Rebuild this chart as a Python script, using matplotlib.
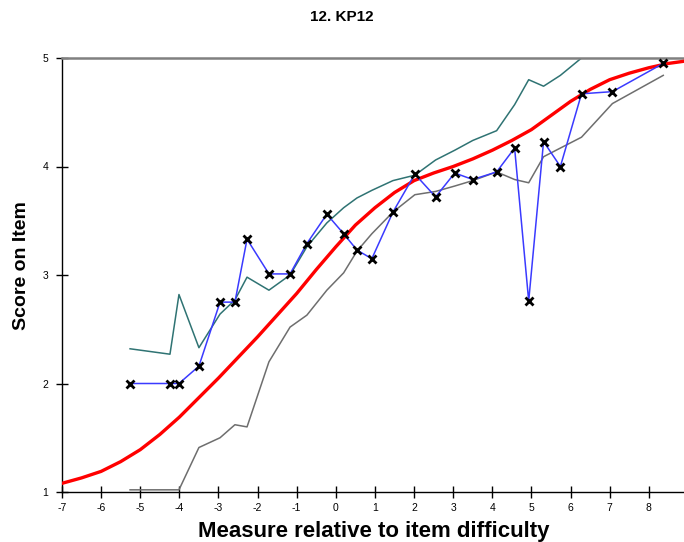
import numpy as np
import matplotlib.pyplot as plt

plt.rcParams['font.family'] = ['Liberation Sans', 'DejaVu Sans']
plt.rcParams['axes.unicode_minus'] = False

# observed mean scores at each measure group
measure = [-5.26, -4.24, -4.01, -3.50, -2.96, -2.58, -2.27, -1.71, -1.17, -0.74,
           -0.23, 0.20, 0.54, 0.92, 1.46, 2.02, 2.55, 3.04, 3.50, 4.11,
           4.57, 4.93, 5.31, 5.74, 6.28, 7.07, 8.37]
observed = [2.00, 2.00, 2.00, 2.16, 2.75, 2.75, 3.33, 3.01, 3.01, 3.29,
            3.56, 3.38, 3.23, 3.15, 3.58, 3.93, 3.72, 3.94, 3.88, 3.95,
            4.17, 2.76, 4.23, 4.00, 4.67, 4.69, 4.95]
# upper and lower confidence bands
upper = [2.32, 2.27, 2.82, 2.33, 2.64, 2.77, 2.98, 2.86, 3.00, 3.26,
         3.48, 3.62, 3.71, 3.78, 3.87, 3.92, 4.06, 4.15, 4.24, 4.33,
         4.57, 4.80, 4.74, 4.84, 5.00, 5.00, 5.00]
lower = [1.02, 1.02, 1.02, 1.41, 1.50, 1.62, 1.60, 2.20, 2.52, 2.63,
         2.86, 3.02, 3.22, 3.38, 3.58, 3.74, 3.77, 3.82, 3.87, 3.95,
         3.88, 3.85, 4.09, 4.17, 4.27, 4.58, 4.84]
# model expected score curve
curve_x = [-7, -6.5, -6, -5.5, -5, -4.5, -4, -3.5, -3, -2.5, -2, -1.5, -1, -0.5,
           0, 0.5, 1, 1.5, 2, 2.5, 3, 3.5, 4, 4.5, 5, 5.5, 6, 6.5, 7, 7.5, 8, 8.5, 8.9]
curve_y = [1.08, 1.13, 1.19, 1.28, 1.39, 1.53, 1.69, 1.87, 2.05, 2.24, 2.43, 2.63, 2.83, 3.05,
           3.26, 3.46, 3.62, 3.76, 3.87, 3.94, 4.00, 4.07, 4.15, 4.24, 4.34, 4.47, 4.60, 4.71,
           4.80, 4.86, 4.91, 4.95, 4.97]
xticks = list(range(-7, 9))
yticks = [1, 2, 3, 4, 5]

fig = plt.figure(figsize=(6.84, 5.42), dpi=100)
ax = fig.add_axes([62 / 684, 1 - 492 / 542, 1 - 62 / 684, (492 - 58) / 542])

ax.plot(measure, upper, color='#2f7373', lw=1.1, zorder=2)
ax.plot(measure, lower, color='#6e6e6e', lw=1.1, zorder=2)
ax.plot(curve_x, curve_y, color='#ff0000', lw=2.4, zorder=3, solid_capstyle='round')
ax.plot(measure, observed, color='#3a3aff', lw=1.1, zorder=4)
ax.plot(measure, observed, ls='none', marker='x', ms=6, mew=2, color='black', zorder=5)

ax.set_xlim(-7, 8.9)
ax.set_ylim(1, 5)
ax.set_xticks(xticks)
ax.set_yticks(yticks)
ax.tick_params(direction='inout', length=8, width=1, labelsize=7.5)
ax.tick_params(axis='x', pad=4)
ax.tick_params(axis='y', pad=6)

for s in ['left', 'bottom']:
    ax.spines[s].set_color('black')
    ax.spines[s].set_linewidth(1)
ax.spines['top'].set_color('#808080')
ax.spines['top'].set_linewidth(1.8)
ax.spines['right'].set_visible(False)

ax.set_xlabel('Measure relative to item difficulty', fontsize=16, fontweight='bold')
ax.set_ylabel('Score on Item', fontsize=14, fontweight='bold')
ax.xaxis.set_label_coords((374 - 62) / 622, -(532 - 492) / 434)
ax.yaxis.set_label_coords(-(62 - 22) / 622, (492 - 266) / 434)
ax.xaxis.label.set_va('center')
ax.yaxis.label.set_va('center')
fig.text(0.5, 1 - 17 / 542, '12. KP12', ha='center', va='center', fontsize=11, fontweight='bold')

fig.savefig('out.png', dpi=100)
